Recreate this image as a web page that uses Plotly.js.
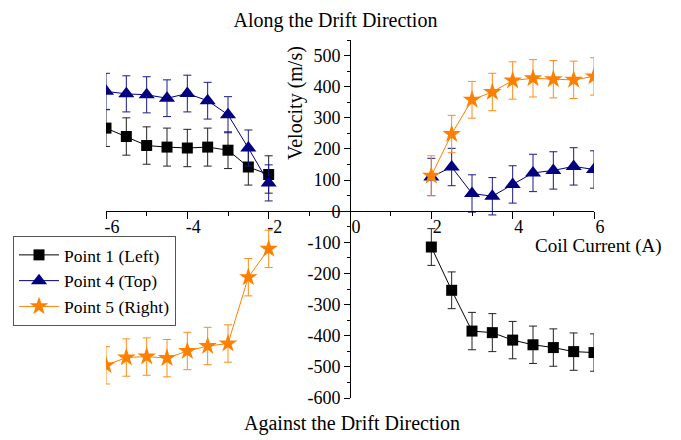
<!DOCTYPE html>
<html>
<head>
<meta charset="utf-8">
<script src="https://cdn.plot.ly/plotly-3.0.1.min.js"></script>
<style>html,body{margin:0;padding:0;background:#fff;}#chart{width:681px;height:440px;}</style>
</head>
<body>
<div id="chart"></div>
<script>
// Coil current values (A)
const currentLeft = [-6, -5.5, -5, -4.5, -4, -3.5, -3, -2.5, -2];
const currentRight = [2, 2.5, 3, 3.5, 4, 4.5, 5, 5.5, 6];

// Velocities (m/s)
const p1Left = [267, 240, 211, 206, 203, 206, 196, 142, 118];
const p1Right = [-115, -254, -385, -390, -414, -429, -438, -451, -454];
const p4Left = [385, 377, 374, 363, 378, 355, 310, 203, 91];
const p4Right = [110, 142, 57, 48, 86, 123, 131, 144, 134];
const p5Left = [-495, -470, -467, -472, -449, -433, -425, -212, -121];
const p5Right = [114, 248, 358, 383, 420, 427, 424, 422, 433];

// Error bar half-lengths (m/s)
const p1ErrLeft = [59, 60, 60, 61, 60, 61, 59, 58, 60];
const p1ErrRight = [59, 59, 60, 61, 60, 60, 60, 60, 60];
const p4ErrLeft = [58, 58, 58, 59, 59, 59, 58, 58, 58];
const p4ErrRight = [60, 60, 60, 60, 60, 60, 60, 60, 60];
const p5ErrLeft = [60, 60, 60, 60, 60, 60, 60, 60, 60];
const p5ErrRight = [64, 60, 59, 60, 60, 60, 60, 60, 60];

const seriesNames = ['Point 1 (Left)', 'Point 4 (Top)', 'Point 5 (Right)'];

// Tick labels
const xTickVals = [-6, -4, -2, 0, 2, 4, 6];
const xTickText = ['-6', '-4', '-2', '0', '2', '4', '6'];
const yTickVals = [-600, -500, -400, -300, -200, -100, 0, 100, 200, 300, 400, 500];
const yTickText = ['-600', '-500', '-400', '-300', '-200', '-100', '0', '100', '200', '300', '400', '500'];

const join = (a, b) => a.concat([null], b);
const xs = join(currentLeft, currentRight);
const FONT = "'Liberation Serif', 'Times New Roman', Times, serif";

function mk(name, yl, yr, el, er, color, barColor, symbol, size) {
  return {
    type: 'scatter', mode: 'lines+markers', name: name,
    x: xs, y: join(yl, yr), connectgaps: false,
    line: {color: color, width: 1},
    marker: {symbol: symbol, size: size, color: color, line: {width: 0}},
    error_y: {type: 'data', array: join(el, er), visible: true,
              color: barColor, thickness: 1, width: 4}
  };
}

const traces = [
  mk(seriesNames[0], p1Left, p1Right, p1ErrLeft, p1ErrRight, '#000000', '#222222', 'square', 11),
  mk(seriesNames[1], p4Left, p4Right, p4ErrLeft, p4ErrRight, '#000080', '#1a1a8c', 'triangle-up', 14),
  mk(seriesNames[2], p5Left, p5Right, p5ErrLeft, p5ErrRight, '#ff8000', '#ff8c1a', 'star', 14)
];

const layout = {
  width: 681, height: 440,
  margin: {l: 106, r: 87, t: 40, b: 42},
  paper_bgcolor: '#ffffff', plot_bgcolor: '#ffffff',
  font: {family: FONT, color: '#000000', size: 18},
  showlegend: true,
  title: {text: 'Along the Drift Direction', font: {family: FONT, size: 20, color: '#000'},
          xref: 'paper', x: (335.5 - 106) / 488, xanchor: 'center',
          yref: 'container', y: 1 - 20/440, yanchor: 'middle'},
  xaxis: {
    range: [-6, 6], anchor: 'free', position: 600/1150,
    showline: true, linecolor: '#000', linewidth: 1,
    ticks: 'outside', ticklen: 7, tickcolor: '#000', tickwidth: 1,
    tickmode: 'array', tickvals: xTickVals, ticktext: xTickText,
    minor: {tickmode: 'linear', tick0: 0, dtick: 1, ticks: 'outside', ticklen: 4, tickcolor: '#000', tickwidth: 1},
    showgrid: false, zeroline: false,
    tickfont: {family: FONT, size: 18, color: '#000'},
    ticklabelshift: 6, ticklabelstandoff: -8
  },
  yaxis: {
    range: [-600, 550], anchor: 'free', position: 0.5,
    showline: true, linecolor: '#000', linewidth: 1,
    ticks: 'outside', ticklen: 6, tickcolor: '#000', tickwidth: 1,
    tickmode: 'array', tickvals: yTickVals, ticktext: yTickText,
    minor: {tickmode: 'linear', tick0: 0, dtick: 50, ticks: 'outside', ticklen: 3, tickcolor: '#000', tickwidth: 1},
    showgrid: false, zeroline: false,
    tickfont: {family: FONT, size: 18, color: '#000'},
    ticklabelstandoff: 0
  },
  legend: {
    x: (13 - 106) / 488, y: (398 - 236) / 358, xanchor: 'left', yanchor: 'top',
    bgcolor: '#ffffff', bordercolor: '#555555', borderwidth: 1,
    font: {family: FONT, size: 17.5, color: '#000'},
    itemwidth: 40, tracegroupgap: 0
  },
  annotations: [
    {text: 'Against the Drift Direction', xref: 'paper', yref: 'paper',
     x: (352 - 106) / 488, y: (398 - 423) / 358, xanchor: 'center', yanchor: 'middle', showarrow: false,
     font: {family: FONT, size: 20, color: '#000'}},
    {text: 'Velocity (m/s)', xref: 'paper', yref: 'paper', textangle: -90,
     x: (295 - 106) / 488, y: (398 - 103) / 358, xanchor: 'center', yanchor: 'middle', showarrow: false,
     font: {family: FONT, size: 20, color: '#000'}},
    {text: 'Coil Current (A)', xref: 'paper', yref: 'paper',
     x: (598 - 106) / 488, y: (398 - 246) / 358, xanchor: 'center', yanchor: 'middle', showarrow: false,
     font: {family: FONT, size: 19, color: '#000'}}
  ]
};

Plotly.newPlot('chart', traces, layout, {displayModeBar: false, staticPlot: true});
</script>
</body>
</html>
